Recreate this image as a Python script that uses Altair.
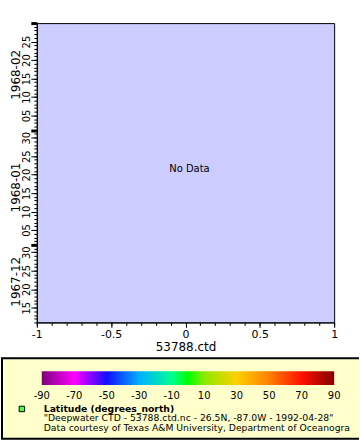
import altair as alt
import pandas as pd

# ---------------- data ----------------
x_domain = [-1.0, 1.0]
time_start = "1967-12-11T00:00:00Z"
time_end = "1968-03-01T00:00:00Z"
no_data_label = "No Data"
no_data_time = "1968-01-21T12:00:00Z"
month_labels = ["1967-12", "1968-01", "1968-02"]
month_label_times = ["1967-12-22T00:00:00Z", "1968-01-16T12:00:00Z", "1968-02-16T00:00:00Z"]
x_title = "53788.ctd"
x_major = [-1, -0.5, 0, 0.5, 1]
x_minor = [-1, -0.9, -0.8, -0.7, -0.6, -0.5, -0.4, -0.3, -0.2, -0.1, 0,
           0.1, 0.2, 0.3, 0.4, 0.5, 0.6, 0.7, 0.8, 0.9, 1]
colorbar_ticks = [-90, -70, -50, -30, -10, 10, 30, 50, 70, 90]
colorbar_stop_values = [-90, -70, -50, -30, -10, 0, 10, 30, 50, 70, 90]
colorbar_stop_colors = ["#7f007f", "#ff00ff", "#1010ff", "#00b0ff", "#00ff90", "#00ff00",
                        "#90e800", "#ffd000", "#ff8000", "#ff1000", "#800000"]
legend_symbol_color = "#44ff44"
legend_title = "Latitude (degrees_north)"
legend_lines = ['"Deepwater CTD - 53788.ctd.nc - 26.5N, -87.0W - 1992-04-28"',
                "Data courtesy of Texas A&M University, Department of Oceanography"]

FONT = "DejaVu Sans"
PLOT_W, PLOT_H = 299, 301
LEFT = 36          # plot origin from the page's left edge
BOX_TOP = 337      # legend box top, relative to plot origin
BOX_H = 82
RIGHT = 360 - LEFT  # page right edge relative to plot origin


def ms(ts):
    return int(pd.Timestamp(ts).value // 10**6)


days = pd.date_range("1967-12-11", "1968-03-01", freq="D", tz="UTC")
day_ms = [int(d.value // 10**6) for d in days]
major_ms = [int(d.value // 10**6) for d in days if d.day % 5 == 0 or d.day == 1]

y_scale = alt.Scale(type="utc", domain=[ms(time_start), ms(time_end)])
x_scale = alt.Scale(domain=x_domain, nice=False, zero=False)

# ---------------- plot layers ----------------
frame_df = pd.DataFrame({"x": [x_domain[0]], "x2": [x_domain[1]],
                         "t": [time_start], "t2": [time_end]})
nodata_df = pd.DataFrame({"x": [0.0], "t": [no_data_time], "label": [no_data_label]})
month_df = pd.DataFrame({"t": month_label_times, "label": month_labels})

minor_layer = alt.Chart(frame_df).mark_rect(opacity=0).encode(
    x=alt.X("x:Q", scale=x_scale,
            axis=alt.Axis(values=x_minor, labels=False, tickSize=3, domain=False,
                          title=None, grid=False, orient="bottom", tickColor="black",
                          zindex=1)),
    x2="x2:Q",
    y=alt.Y("t:T", scale=y_scale,
            axis=alt.Axis(values=day_ms, labels=False, tickSize=3, domain=False,
                          title=None, grid=False, orient="left", tickColor="black",
                          zindex=1)),
    y2="t2:T",
)

major_layer = alt.Chart(nodata_df).mark_text(
    font=FONT, fontSize=10, color="black", align="center", baseline="middle", dx=4
).encode(
    x=alt.X("x:Q", scale=x_scale,
            axis=alt.Axis(values=x_major, labelExpr="'' + datum.value", tickSize=5,
                          labelPadding=1, labelFont=FONT, labelFontSize=11,
                          labelColor="black", labelFlush=False, labelOverlap=False,
                          domainColor="black", tickColor="black", grid=False,
                          title=x_title, titleFont=FONT, titleFontSize=12,
                          titleFontWeight="normal", titleColor="black",
                          titlePadding=2, orient="bottom", zindex=1)),
    y=alt.Y("t:T", scale=y_scale,
            axis=alt.Axis(values=major_ms,
                          labelExpr="utcdate(datum.value) % 5 == 0 ? utcFormat(datum.value, '%d') : ''",
                          tickSize=6,
                          tickWidth={"condition": {"test": "utcdate(datum.value) == 1", "value": 3},
                                     "value": 1},
                          labelAngle=270, labelAlign="center", labelBaseline="alphabetic",
                          labelPadding=1, labelFont=FONT, labelFontSize=10,
                          labelColor="black", labelOverlap=False, labelFlush=False,
                          domainColor="black", tickColor="black", grid=False,
                          title=None, orient="left", zindex=1)),
    text="label:N",
)

month_layer = alt.Chart(month_df).mark_text(
    font=FONT, fontSize=12, color="black", align="center", baseline="middle", angle=270
).encode(
    x=alt.value(-21),
    y=alt.Y("t:T", scale=y_scale, axis=None),
    text="label:N",
)

# ---------------- legend layers (below the plot) ----------------
cb_scale = alt.Scale(domain=[-90, 90], range=[5, 299], nice=False, zero=False)
span = colorbar_stop_values[-1] - colorbar_stop_values[0]
gradient = alt.Gradient(
    gradient="linear", x1=0, x2=1, y1=0, y2=0,
    stops=[alt.GradientStop(offset=(v - colorbar_stop_values[0]) / span, color=c)
           for v, c in zip(colorbar_stop_values, colorbar_stop_colors)],
)

box_df = pd.DataFrame({"k": [0]})
cb_df = pd.DataFrame({"lo": [colorbar_ticks[0]], "hi": [colorbar_ticks[-1]]})
cb_ticks_df = pd.DataFrame({"v": colorbar_ticks, "label": [str(v) for v in colorbar_ticks]})

box = alt.Chart(box_df).mark_rect(fill="#ffffcc").encode(
    x=alt.value(-LEFT), x2=alt.value(RIGHT),
    y=alt.value(BOX_TOP), y2=alt.value(BOX_TOP + BOX_H),
)
border_top = alt.Chart(box_df).mark_rule(color="black", strokeWidth=2).encode(
    x=alt.value(-LEFT), x2=alt.value(RIGHT), y=alt.value(BOX_TOP)
)
border_bottom = alt.Chart(box_df).mark_rule(color="black", strokeWidth=2).encode(
    x=alt.value(-LEFT), x2=alt.value(RIGHT), y=alt.value(BOX_TOP + BOX_H - 1)
)
border_left = alt.Chart(box_df).mark_rule(color="black", strokeWidth=2).encode(
    x=alt.value(-LEFT + 1), y=alt.value(BOX_TOP), y2=alt.value(BOX_TOP + BOX_H - 1)
)
cbar = alt.Chart(cb_df).mark_rect(fill=gradient).encode(
    x=alt.X("lo:Q", scale=cb_scale, axis=None), x2="hi:Q",
    y=alt.value(BOX_TOP + 13), y2=alt.value(BOX_TOP + 27),
)
cb_labels = alt.Chart(cb_ticks_df).mark_text(
    font=FONT, fontSize=10, color="black", align="center", baseline="middle"
).encode(
    x=alt.X("v:Q", scale=cb_scale, axis=None), y=alt.value(BOX_TOP + 38), text="label:N"
)
symbol = alt.Chart(box_df).mark_square(
    size=30, fill=legend_symbol_color, stroke="black", strokeWidth=1, opacity=1
).encode(x=alt.value(-15), y=alt.value(BOX_TOP + 51))

title_text = alt.Chart(pd.DataFrame({"label": [legend_title]})).mark_text(
    font=FONT, fontSize=9.3, fontWeight="bold", color="black", align="left", baseline="middle"
).encode(x=alt.value(7), y=alt.value(BOX_TOP + 51), text="label:N")

line_layers = []
for i, line in enumerate(legend_lines):
    line_layers.append(
        alt.Chart(pd.DataFrame({"label": [line]})).mark_text(
            font=FONT, fontSize=9.3, color="black", align="left", baseline="middle",
            limit=RIGHT - 7, ellipsis=" "
        ).encode(x=alt.value(7), y=alt.value(BOX_TOP + 60.5 + 10 * i), text="label:N")
    )

chart = alt.layer(
    box, border_top, border_bottom, border_left,
    minor_layer, major_layer, month_layer, cbar, cb_labels, symbol, title_text,
    *line_layers
).resolve_scale(
    x="independent"
).resolve_axis(
    x="independent", y="independent"
).properties(
    width=PLOT_W, height=PLOT_H,
    padding={"left": 0, "top": 20, "right": 0, "bottom": 0},
    background="white",
    view=alt.ViewBackground(fill="#ccccff", stroke="black", strokeWidth=1),
).configure(font=FONT)

chart.save("out.html", embed_options={"renderer": "svg", "actions": False})
